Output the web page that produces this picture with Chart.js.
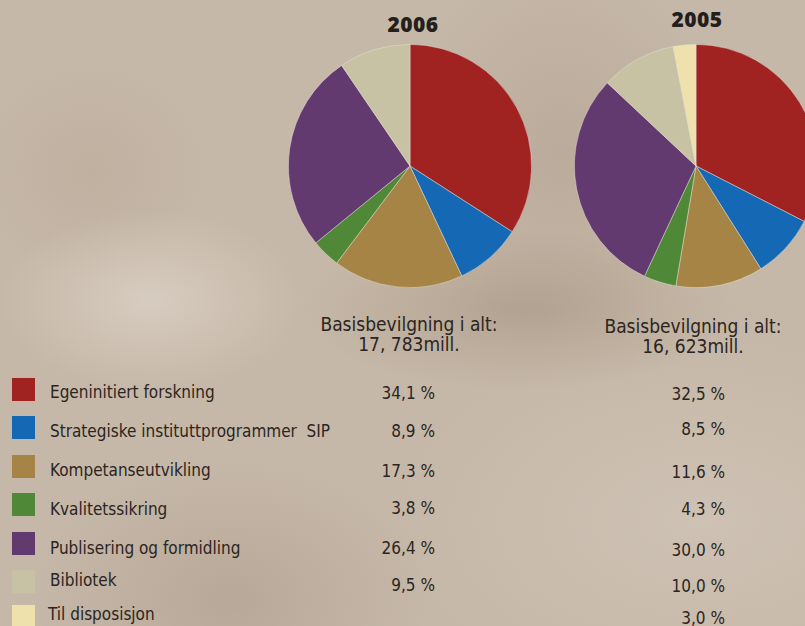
<!DOCTYPE html>
<html>
<head>
<meta charset="utf-8">
<script src="https://cdn.jsdelivr.net/npm/chart.js@4"></script>
<style>
  html, body { margin: 0; padding: 0; }
  body {
    width: 805px; height: 626px; overflow: hidden; position: relative;
    font-family: "Liberation Sans Narrow", "DejaVu Sans Condensed", sans-serif;
    color: #2b2521;
    background:
      radial-gradient(ellipse 150px 90px at 150px 300px, rgba(222,212,202,0.7), rgba(222,212,202,0) 100%),
      radial-gradient(ellipse 120px 110px at 90px 170px, rgba(170,152,135,0.25), rgba(170,152,135,0) 100%),
      radial-gradient(ellipse 220px 80px at 520px 310px, rgba(140,120,100,0.32), rgba(140,120,100,0) 100%),
      radial-gradient(ellipse 300px 180px at 700px 520px, rgba(215,205,195,0.45), rgba(215,205,195,0) 100%),
      radial-gradient(ellipse 200px 140px at 230px 600px, rgba(150,130,115,0.3), rgba(150,130,115,0) 100%),
      radial-gradient(ellipse 160px 200px at 560px 150px, rgba(150,130,115,0.25), rgba(150,130,115,0) 100%),
      #c6b8a8;
  }
  .pie { position: absolute; top: 44px; width: 244px; height: 244px; }
  .year { position: absolute; font-family: "Open Sans", "DejaVu Sans", sans-serif; font-weight: 800; font-size: 21px; transform: translateX(-50%); color: #231f1c; letter-spacing: 0.5px; }
  .head { position: absolute; font-size: 19px; line-height: 20px; text-align: center; transform: translateX(-50%); white-space: nowrap; }
  .sw { position: absolute; left: 12px; width: 23px; height: 23px; }
  .lbl { position: absolute; left: 50px; font-size: 17px; white-space: pre; transform: translateY(-50%); }
  .pct { position: absolute; font-size: 17px; white-space: nowrap; transform: translate(-100%, -50%); }
</style>
</head>
<body>
<div class="year" style="left:413px; top:10px;">2006</div>
<div class="year" style="left:697px; top:5px;">2005</div>
<div class="pie" style="left:288px;"><canvas id="pie2006"></canvas></div>
<div class="pie" style="left:574px;"><canvas id="pie2005"></canvas></div>
<div class="head" style="left:409px; top:314px;">Basisbevilgning i alt:<br>17, 783mill.</div>
<div class="head" style="left:693px; top:316px;">Basisbevilgning i alt:<br>16, 623mill.</div>
<div id="table"></div>
<script>
const categories = ['Egeninitiert forskning', 'Strategiske instituttprogrammer  SIP', 'Kompetanseutvikling', 'Kvalitetssikring', 'Publisering og formidling', 'Bibliotek', 'Til disposisjon'];
const values2006 = [34.1, 8.9, 17.3, 3.8, 26.4, 9.5, 0];
const values2005 = [32.5, 8.5, 11.6, 4.3, 30.0, 10.0, 3.0];
const colors = ['#a02221', '#1569b4', '#a68446', '#4f8937', '#633a70', '#c7c2a3', '#efe1ac'];

// row layout of the table under the pies
const rowY = [392, 431, 470, 509, 548, 580, 614];
const swY = [378, 416, 455, 493, 532, 570, 605];
const pctY2006 = [393, 431, 471, 508, 548, 585];
const pctY2005 = [394, 429, 472, 509, 550, 586, 618];

function fmt(v) {
  return v.toFixed(1).replace('.', ',') + ' %';
}

function buildTable() {
  const t = document.getElementById('table');
  let html = '';
  categories.forEach((c, i) => {
    html += `<div class="sw" style="top:${swY[i]}px;background:${colors[i]}"></div>`;
    html += `<div class="lbl" style="top:${rowY[i]}px;${i === 6 ? 'left:48px' : ''}">${c}</div>`;
    if (values2006[i] > 0) html += `<div class="pct" style="left:435px;top:${pctY2006[i]}px">${fmt(values2006[i])}</div>`;
    html += `<div class="pct" style="left:725px;top:${pctY2005[i]}px">${fmt(values2005[i])}</div>`;
  });
  t.innerHTML = html;
}

function makePie(id, data) {
  return new Chart(document.getElementById(id), {
    type: 'pie',
    data: { labels: categories, datasets: [{ data: data, backgroundColor: colors, borderWidth: 0.8, borderColor: 'rgba(230,225,215,0.6)' }] },
    options: {
      responsive: true, maintainAspectRatio: false, animation: false,
      layout: { padding: 0 },
      plugins: { legend: { display: false }, tooltip: { enabled: false } }
    }
  });
}

buildTable();
makePie('pie2006', values2006);
makePie('pie2005', values2005);
</script>
</body>
</html>
